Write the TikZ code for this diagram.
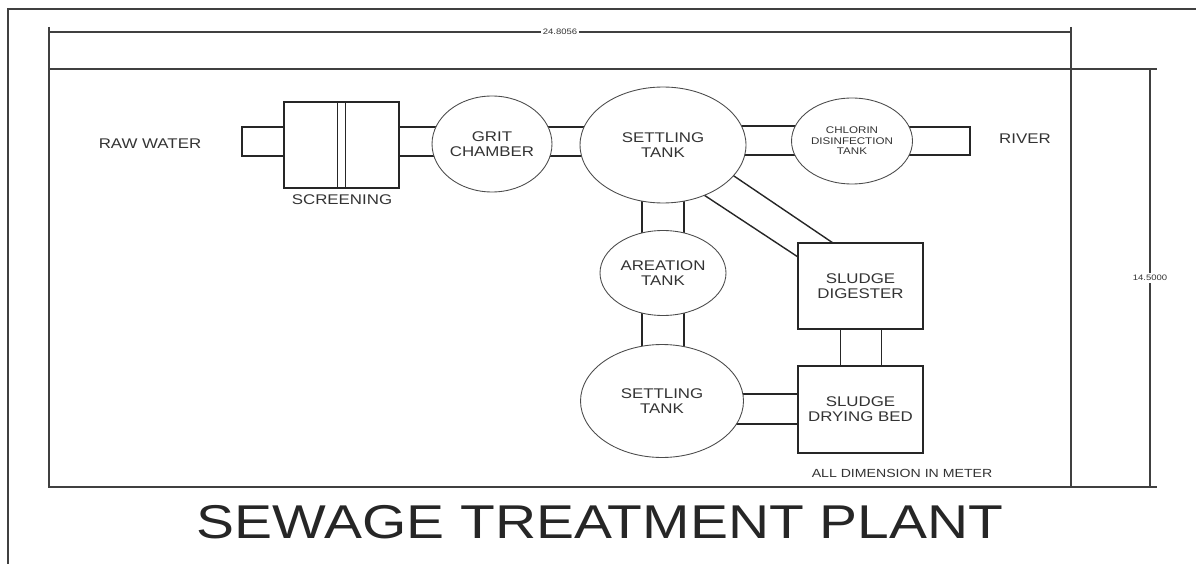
\documentclass[tikz,border=0pt]{standalone}
\usepackage{fontspec}
\setmainfont{Liberation Sans}[FakeStretch=1.2]
\usetikzlibrary{shapes.geometric,calc}
\pgfdeclarelayer{background}
\pgfsetlayers{background,main}

\begin{document}
\begin{tikzpicture}[x=0.02cm,y=-0.02cm]
  \tikzstyle{tank node}=[ellipse,draw=black!70,fill=white,line width=0.5pt,inner sep=0,align=center,text=black!80,font=\fontsize{8}{8.5}\selectfont]
  \tikzstyle{box node}=[rectangle,draw=black!85,fill=white,line width=0.8pt,inner sep=0,outer sep=0,align=center,text=black!80,font=\fontsize{8}{8.5}\selectfont]
  \tikzset{
pipe/.style={draw=black!85,line width=0.8pt},
frame line/.style={draw=black!75,line width=0.8pt},
plain text/.style={text=black!80,font=\fontsize{8}{8.5}\selectfont},
dim text/.style={fill=white,inner sep=1pt,text=black!80,font=\fontsize{4.5}{5}\selectfont}
}
  \useasboundingbox (0,0) rectangle (1196,564);

  % sheet and dimensions
  \draw[frame line] (8,564) -- (8,9) -- (1196,9);
  \draw[frame line] (49,69) rectangle (1071,487);
  \draw[frame line] (49,27) -- (49,69) (1071,27) -- (1071,69);
  \draw[frame line] (1071,69) -- (1157,69) (1071,487) -- (1157,487);
  \draw[frame line] (49,32) -- node[dim text]{24.8056} (1071,32);
  \draw[frame line] (1150,69) -- node[dim text]{14.5000} (1150,487);

  % units
  \node[box node,minimum width=2.3cm,minimum height=1.72cm](screen) at (341.5,145){};
  \node[tank node,minimum width=2.4cm,minimum height=1.92cm](grit) at (492,144){GRIT\\CHAMBER};
  \node[tank node,minimum width=3.32cm,minimum height=2.32cm](settle1) at (663,145){SETTLING\\TANK};
  \node[tank node,minimum width=2.42cm,minimum height=1.72cm,font=\fontsize{5.5}{6}\selectfont](chlor) at (852,141){CHLORIN\\DISINFECTION\\TANK};
  \node[tank node,minimum width=2.52cm,minimum height=1.7cm](aeration) at (663,273){AREATION\\TANK};
  \node[tank node,minimum width=3.26cm,minimum height=2.26cm](settle2) at (662,401){SETTLING\\TANK};
  \node[box node,minimum width=2.5cm,minimum height=1.72cm](digester) at (860.5,286){SLUDGE\\DIGESTER};
  \node[box node,minimum width=2.5cm,minimum height=1.74cm](drying) at (860.5,409.5){SLUDGE\\DRYING BED};
  \coordinate (inlet) at (242,141);
  \coordinate (outlet) at (970,141);

  \draw[pipe] ($(screen.north)+(-4,0)$) -- ($(screen.south)+(-4,0)$);
  \draw[pipe] ($(screen.north)+(4,0)$) -- ($(screen.south)+(4,0)$);

  % pipes
  \begin{pgfonlayer}{background}
  \draw[pipe] (screen.west |- 0,127) -- (inlet |- 0,127) -- (inlet |- 0,156) -- (screen.west |- 0,156);
  \foreach \y in {127,156} {
    \draw[pipe] (screen.east |- 0,\y) -- (grit.center |- 0,\y);
    \draw[pipe] (grit.center |- 0,\y) -- (settle1.center |- 0,\y);
  }
  \foreach \y in {126,155}
    \draw[pipe] (settle1.center |- 0,\y) -- (chlor.center |- 0,\y);
  \draw[pipe] (chlor.center |- 0,127) -- (outlet |- 0,127) -- (outlet |- 0,155) -- (chlor.center |- 0,155);
  \foreach \x in {642,684} {
    \draw[pipe] (settle1.center -| \x,0) -- (aeration.center -| \x,0);
    \draw[pipe] (aeration.center -| \x,0) -- (settle2.center -| \x,0);
  }
  \draw[pipe] ($(settle1.center)+(0,-17)$) -- ($(digester.north west)+(35,0)$);
  \draw[pipe] ($(settle1.center)+(0,23)$) -- ($(digester.north west)+(0,14)$);
  \foreach \dx in {-20,21}
    \draw[pipe] ($(digester.south)+(\dx,0)$) -- ($(drying.north)+(\dx,0)$);
  \foreach \y in {394,424}
    \draw[pipe] (settle2.center |- 0,\y) -- (drying.west |- 0,\y);
  \end{pgfonlayer}

  % labels
  \node[plain text](raw) at (150,144){RAW WATER};
  \node[plain text](scrtext) at (342,200){SCREENING};
  \node[plain text](river) at (1025,139){RIVER};
  \node[plain text,font=\fontsize{6.7}{7}\selectfont](note) at (902,473){ALL DIMENSION IN METER};
  \node[text=black!85,font=\fontsize{27}{30}\selectfont](title) at (600,522){SEWAGE TREATMENT PLANT};
\end{tikzpicture}
\end{document}
